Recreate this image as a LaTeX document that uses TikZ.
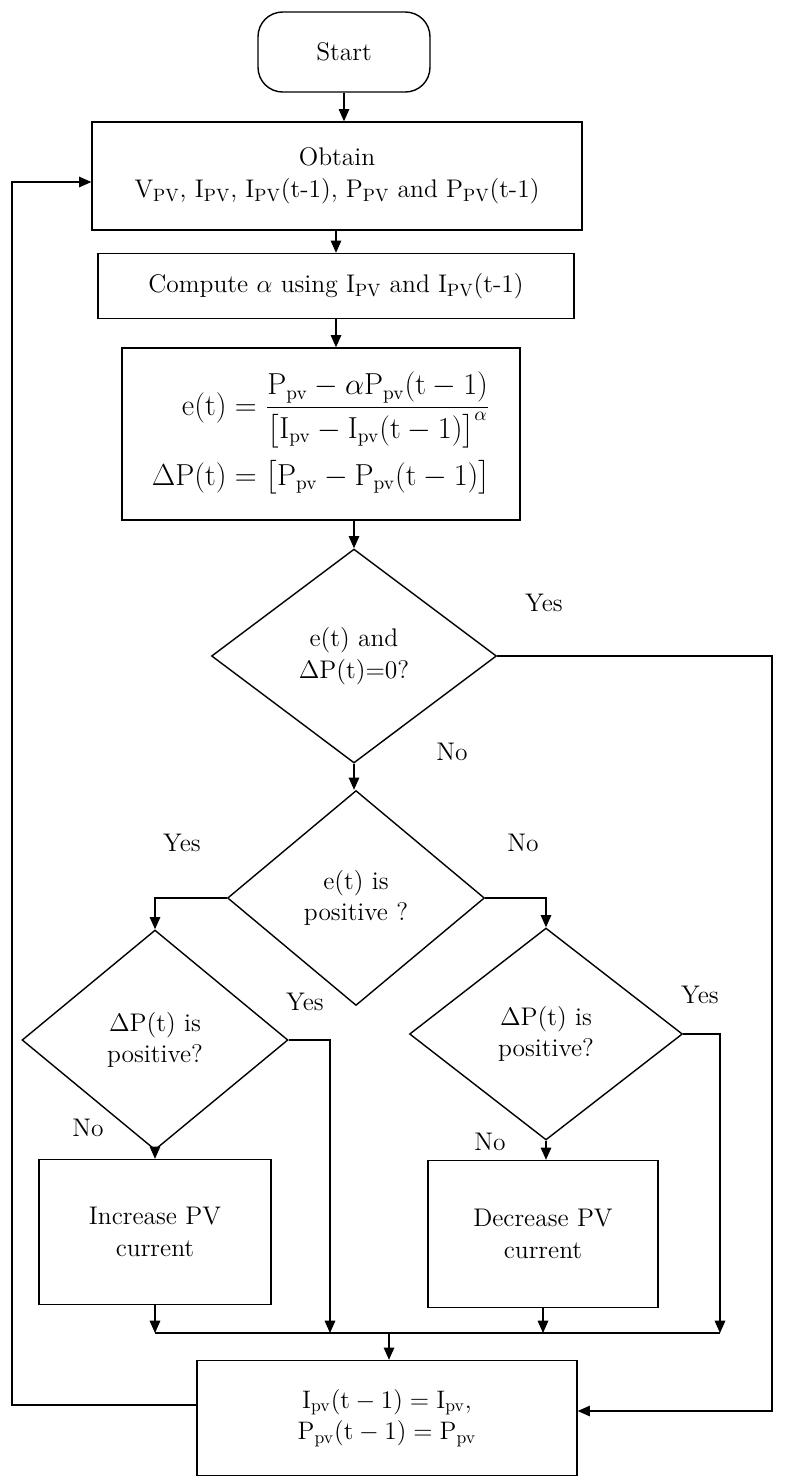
\documentclass[tikz,border=0pt]{standalone}
\usepackage{amsmath}
\usepackage{amssymb}
\usetikzlibrary{shapes.geometric,arrows.meta}
\newcommand{\pvs}[1]{#1\textsubscript{PV}}
\begin{document}
\fontsize{14}{18}\selectfont
\begin{tikzpicture}[x=0.02cm, y=-0.02cm,
    every node/.style={font=\fontsize{14.5}{18}\selectfont},
    box/.style={draw, thick, align=center, inner sep=0pt},
    dec/.style={draw, thick, diamond, aspect=1.33, align=center, inner sep=0pt},
    line/.style={thick},
    arr/.style={thick, -{Triangle[length=7pt, width=6pt]}},
    lbl/.style={}]
    \useasboundingbox (0, 0) rectangle (788, 1478);

    \node[box, rounded corners=14pt, minimum width=3.44cm, minimum height=1.6cm] (start) at (344, 52) {Start};
    \node[box, minimum width=9.8cm, minimum height=2.16cm] (obtain) at (337, 176)
      {Obtain\\ \pvs{V}, \pvs{I}, \pvs{I}(t-1), \pvs{P} and \pvs{P}(t-1)};
    \node[box, minimum width=9.52cm, minimum height=1.3cm] (alpha) at (336, 286)
      {Compute $\alpha$ using \pvs{I} and \pvs{I}(t-1)};
    \node[box, minimum width=7.96cm, minimum height=3.44cm, font=\fontsize{16}{20}\selectfont] (err) at (321, 434)
      {$\begin{aligned}
        \mathrm{e(t)} &= \frac{\mathrm{P_{pv}} - \alpha \mathrm{P_{pv}(t-1)}}{\bigl[\mathrm{I_{pv}} - \mathrm{I_{pv}(t-1)}\bigr]^{\alpha}}\\[2pt]
        \Delta \mathrm{P(t)} &= \bigl[\mathrm{P_{pv}} - \mathrm{P_{pv}(t-1)}\bigr]
      \end{aligned}$};

    \node[dec, minimum width=5.7cm, minimum height=4.28cm] (zero) at (354, 656) {e(t) and\\ $\Delta$P(t)=0?};
    \node[dec, minimum width=5.14cm, minimum height=4.3cm] (sign) at (356, 898) {e(t) is\\ positive ?};
    \node[dec, minimum width=5.32cm, minimum height=4.4cm] (dpl) at (155, 1040) {$\Delta$P(t) is\\ positive?};
    \node[dec, minimum width=5.46cm, minimum height=4.24cm] (dpr) at (546, 1034) {$\Delta$P(t) is\\ positive?};

    \node[box, minimum width=4.64cm, minimum height=2.9cm] (inc) at (155, 1232) {Increase PV\\ current};
    \node[box, minimum width=4.6cm, minimum height=2.94cm] (decr) at (543, 1234) {Decrease PV\\ current};
    \node[box, minimum width=7.6cm, minimum height=2.3cm] (upd) at (387, 1418)
      {$\mathrm{I_{pv}(t-1)} = \mathrm{I_{pv}},$\\ $\mathrm{P_{pv}(t-1)} = \mathrm{P_{pv}}$};

    \coordinate (mL) at (155, 1333);
    \coordinate (mR) at (720, 1333);

    % labels
    \node[lbl] (y1) at (544, 603) {Yes};
    \node[lbl] (n1) at (452, 752) {No};
    \node[lbl] (y2) at (182, 843) {Yes};
    \node[lbl] (n2) at (523, 843) {No};
    \node[lbl] (y3) at (305, 1002) {Yes};
    \node[lbl] (n3) at (88, 1128) {No};
    \node[lbl] (y4) at (700, 995) {Yes};
    \node[lbl] (n4) at (490, 1142) {No};

    % main flow
    \draw[arr] (start.south) -- (start.south |- obtain.north);
    \draw[arr] (obtain.south -| alpha.north) -- (alpha);
    \draw[arr] (alpha.south) -- (alpha.south |- err.north);
    \draw[arr] (err.south -| zero.north) -- (zero);
    \draw[arr] (zero.south) -- (sign.north -| zero.south);
    \draw[arr] (sign.west) -| (dpl.north);
    \draw[arr] (sign.east) -| (dpr.north);
    \draw[arr] (dpl) -- (inc);
    \draw[arr] (dpr.south) -- (dpr.south |- decr.north);

    % merge
    \draw[arr] (inc.south) -- (mL);
    \draw[arr] (dpl.east) -| (330, 1333);
    \draw[arr] (decr.south) -- (decr.south |- mR);
    \draw[arr] (dpr.east) -| (mR);
    \draw[line] (mL) -- (mR);
    \draw[arr] (389, 1333) -- (upd.north -| 389, 0);

    % returns
    \draw[arr] (zero.east) -| (772, 1411) -- (upd.east |- 0, 1411);
    \draw[arr] (upd.west |- 0, 1405) -| (12, 182) -- (obtain.west |- 0, 182);
\end{tikzpicture}
\end{document}
